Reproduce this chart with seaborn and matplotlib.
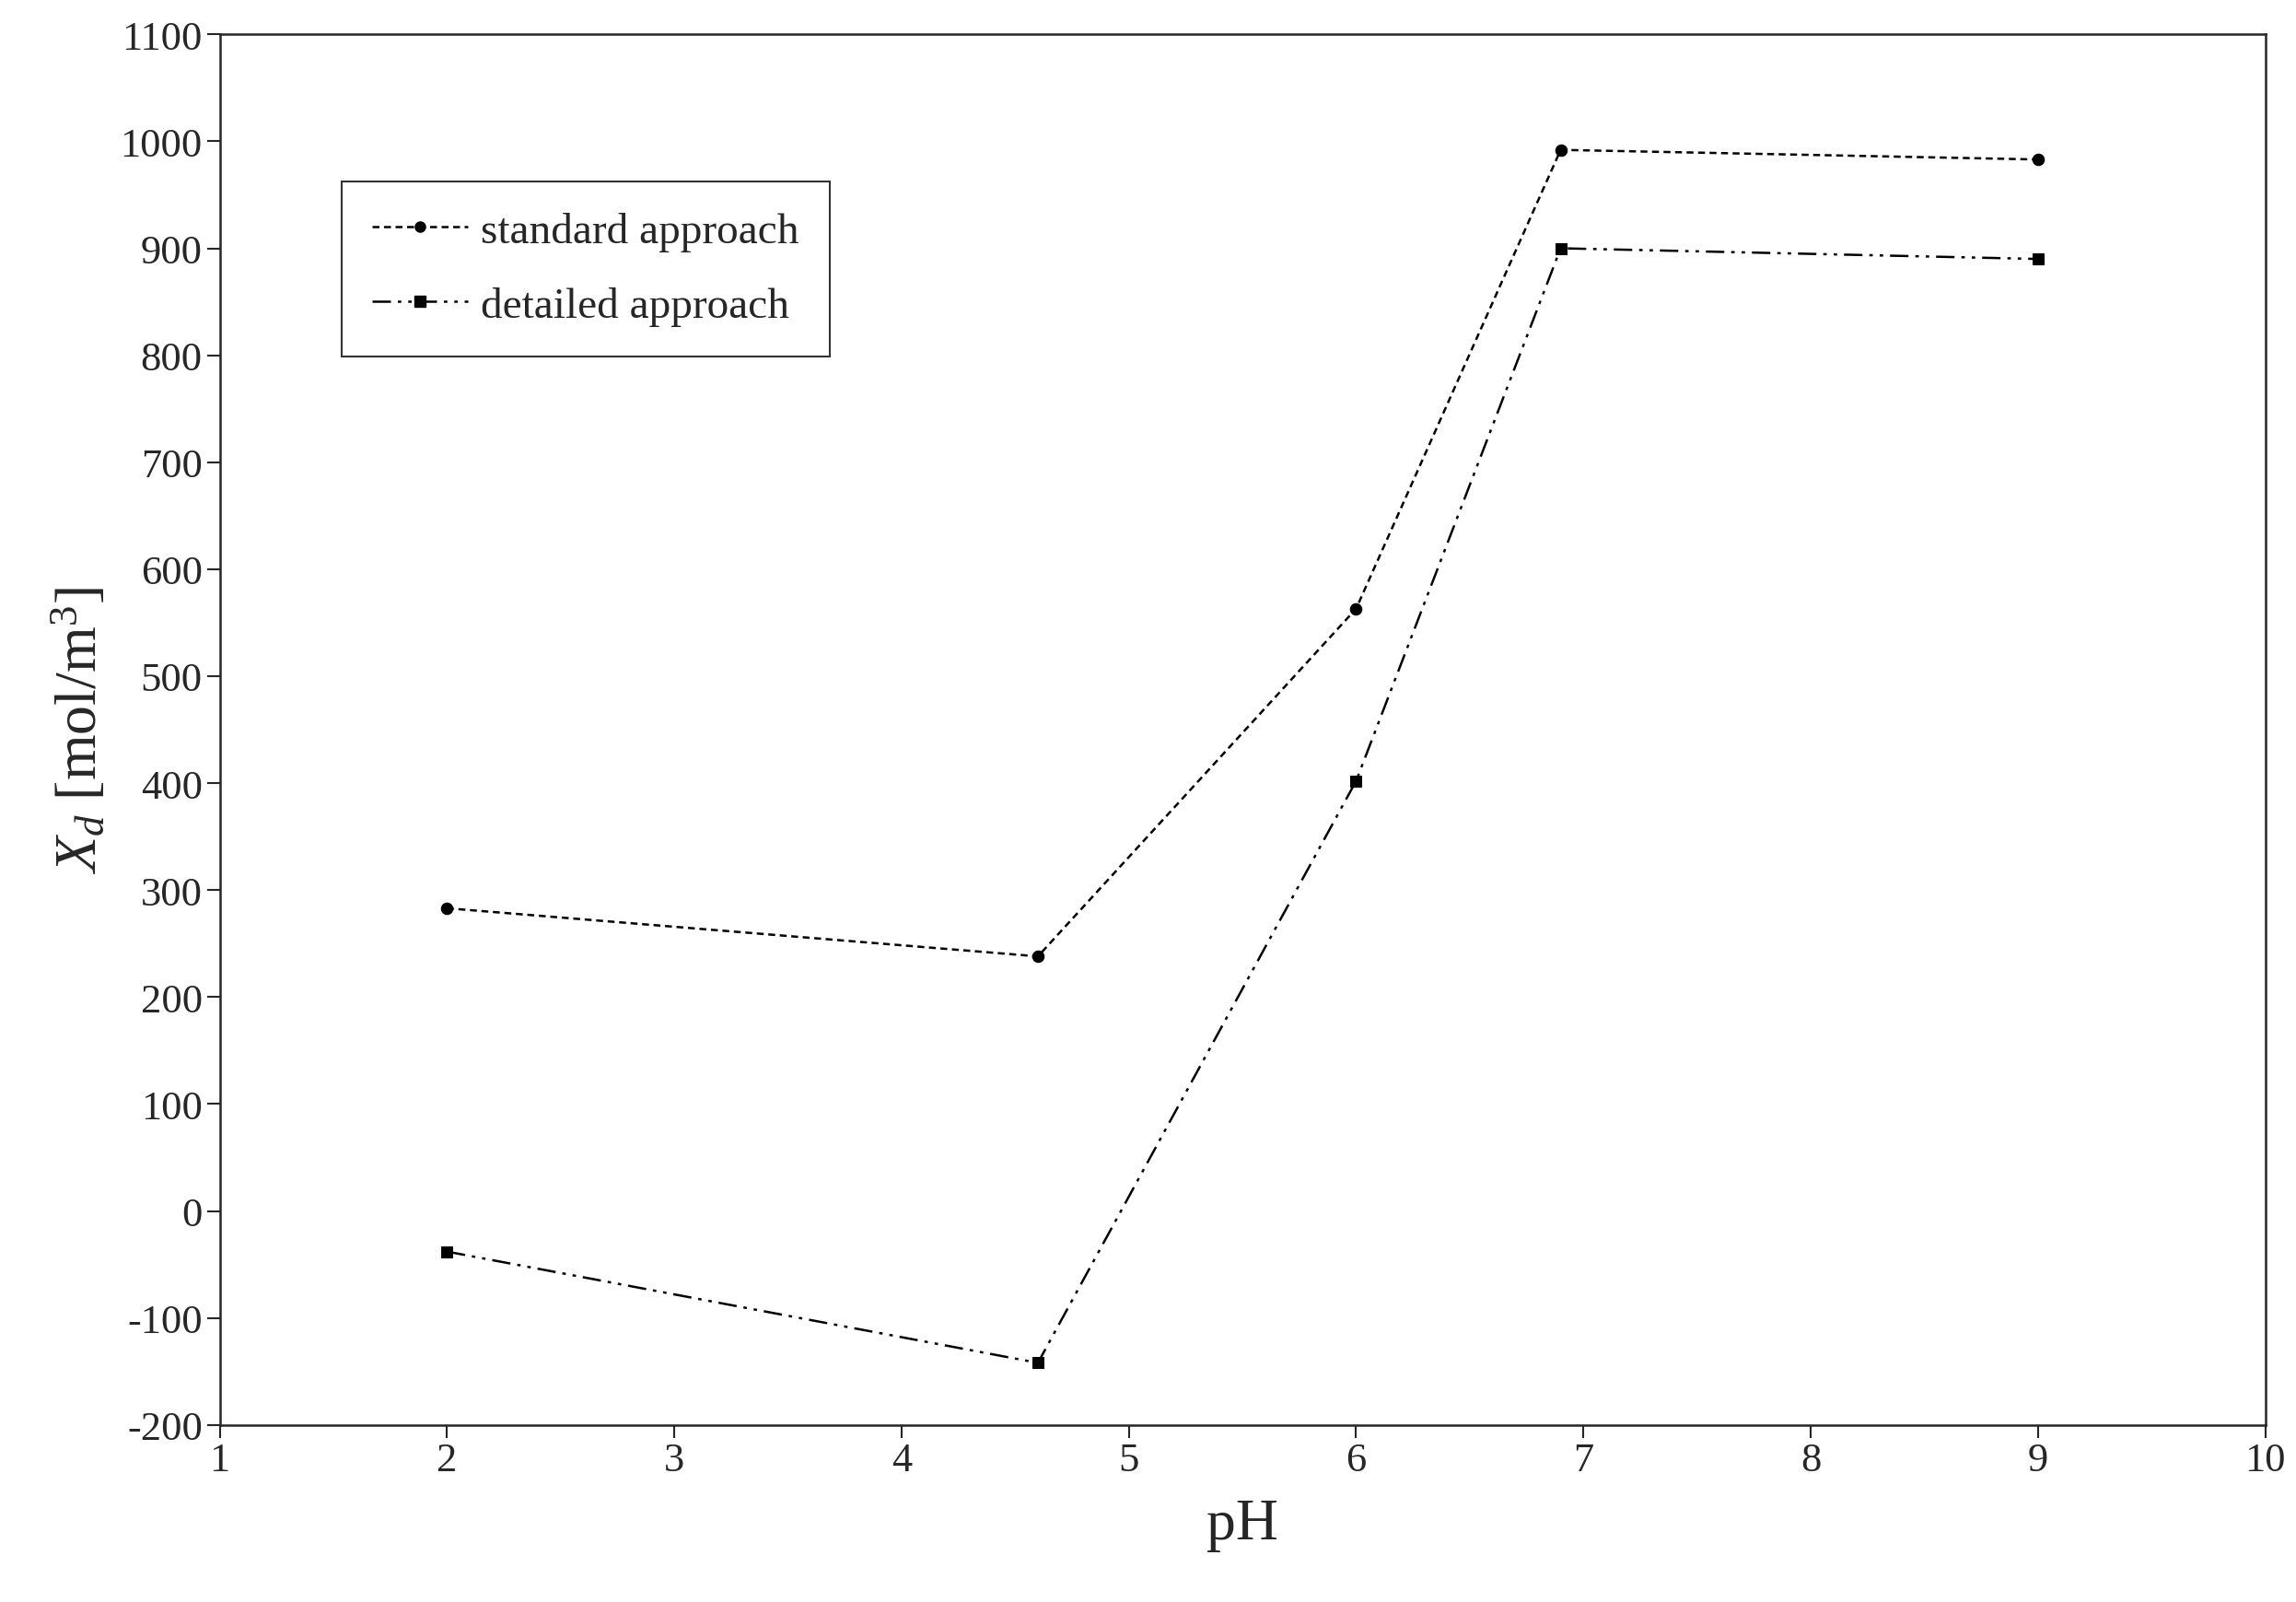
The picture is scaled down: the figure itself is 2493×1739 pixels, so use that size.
import matplotlib
matplotlib.use("Agg")
import matplotlib.pyplot as plt
import seaborn as sns
import pandas as pd
from matplotlib.lines import Line2D

ph = [2, 4.6, 6, 6.9, 9]
standard = [283, 238, 563, 992, 983]
detailed = [-38, -142, 402, 900, 890]
series_names = ["standard approach", "detailed approach"]

sns.set_style("ticks")
plt.rcParams['font.family'] = ['Liberation Serif', 'DejaVu Serif']
plt.rcParams['mathtext.fontset'] = 'custom'
plt.rcParams['mathtext.it'] = 'Liberation Serif:italic'
plt.rcParams['mathtext.rm'] = 'Liberation Serif'
plt.rcParams['axes.unicode_minus'] = False

df = pd.DataFrame({"pH": ph * 2, "Xd": standard + detailed,
                   "series": [series_names[0]] * 5 + [series_names[1]] * 5})

fig = plt.figure(figsize=(24.93, 17.40), dpi=100)
ax = fig.add_axes([0.0957, 0.1105, 0.8909, 0.8675])
sns.lineplot(data=df, x="pH", y="Xd", hue="series", style="series",
             palette=["black", "black"], markers=["o", "s"],
             dashes=[(3, 2), (8, 3, 1.5, 3, 1.5, 3)], linewidth=1.8,
             markersize=9, markeredgecolor="black", ax=ax, legend=False)

ax.set_xlim(1, 10)
ax.set_ylim(-200, 1100)
ax.set_xticks(range(1, 11))
ax.set_yticks(range(-200, 1101, 100))
ax.tick_params(labelsize=32, length=10, width=1.5, direction="out")
for s in ax.spines.values():
    s.set_visible(True)
    s.set_linewidth(1.8)
ax.set_xlabel("pH", fontsize=46, labelpad=15)
ax.set_ylabel(r"$X_d$ [mol/m$^3$]", fontsize=46, labelpad=8)

handles = [Line2D([], [], color="black", linestyle=(0, (3, 2)), marker="o", markersize=8, linewidth=1.8),
           Line2D([], [], color="black", linestyle=(0, (8, 3, 1.5, 3, 1.5, 3)), marker="s", markersize=8, linewidth=1.8)]
leg = ax.legend(handles, series_names, loc="upper left", bbox_to_anchor=(0.049, 0.91),
                fontsize=34, frameon=True, fancybox=False, edgecolor="black",
                handlelength=2.2, handletextpad=0.3, labelspacing=0.8, borderpad=0.7)
leg.get_frame().set_linewidth(1.5)

fig.savefig("out.png", dpi=100)
